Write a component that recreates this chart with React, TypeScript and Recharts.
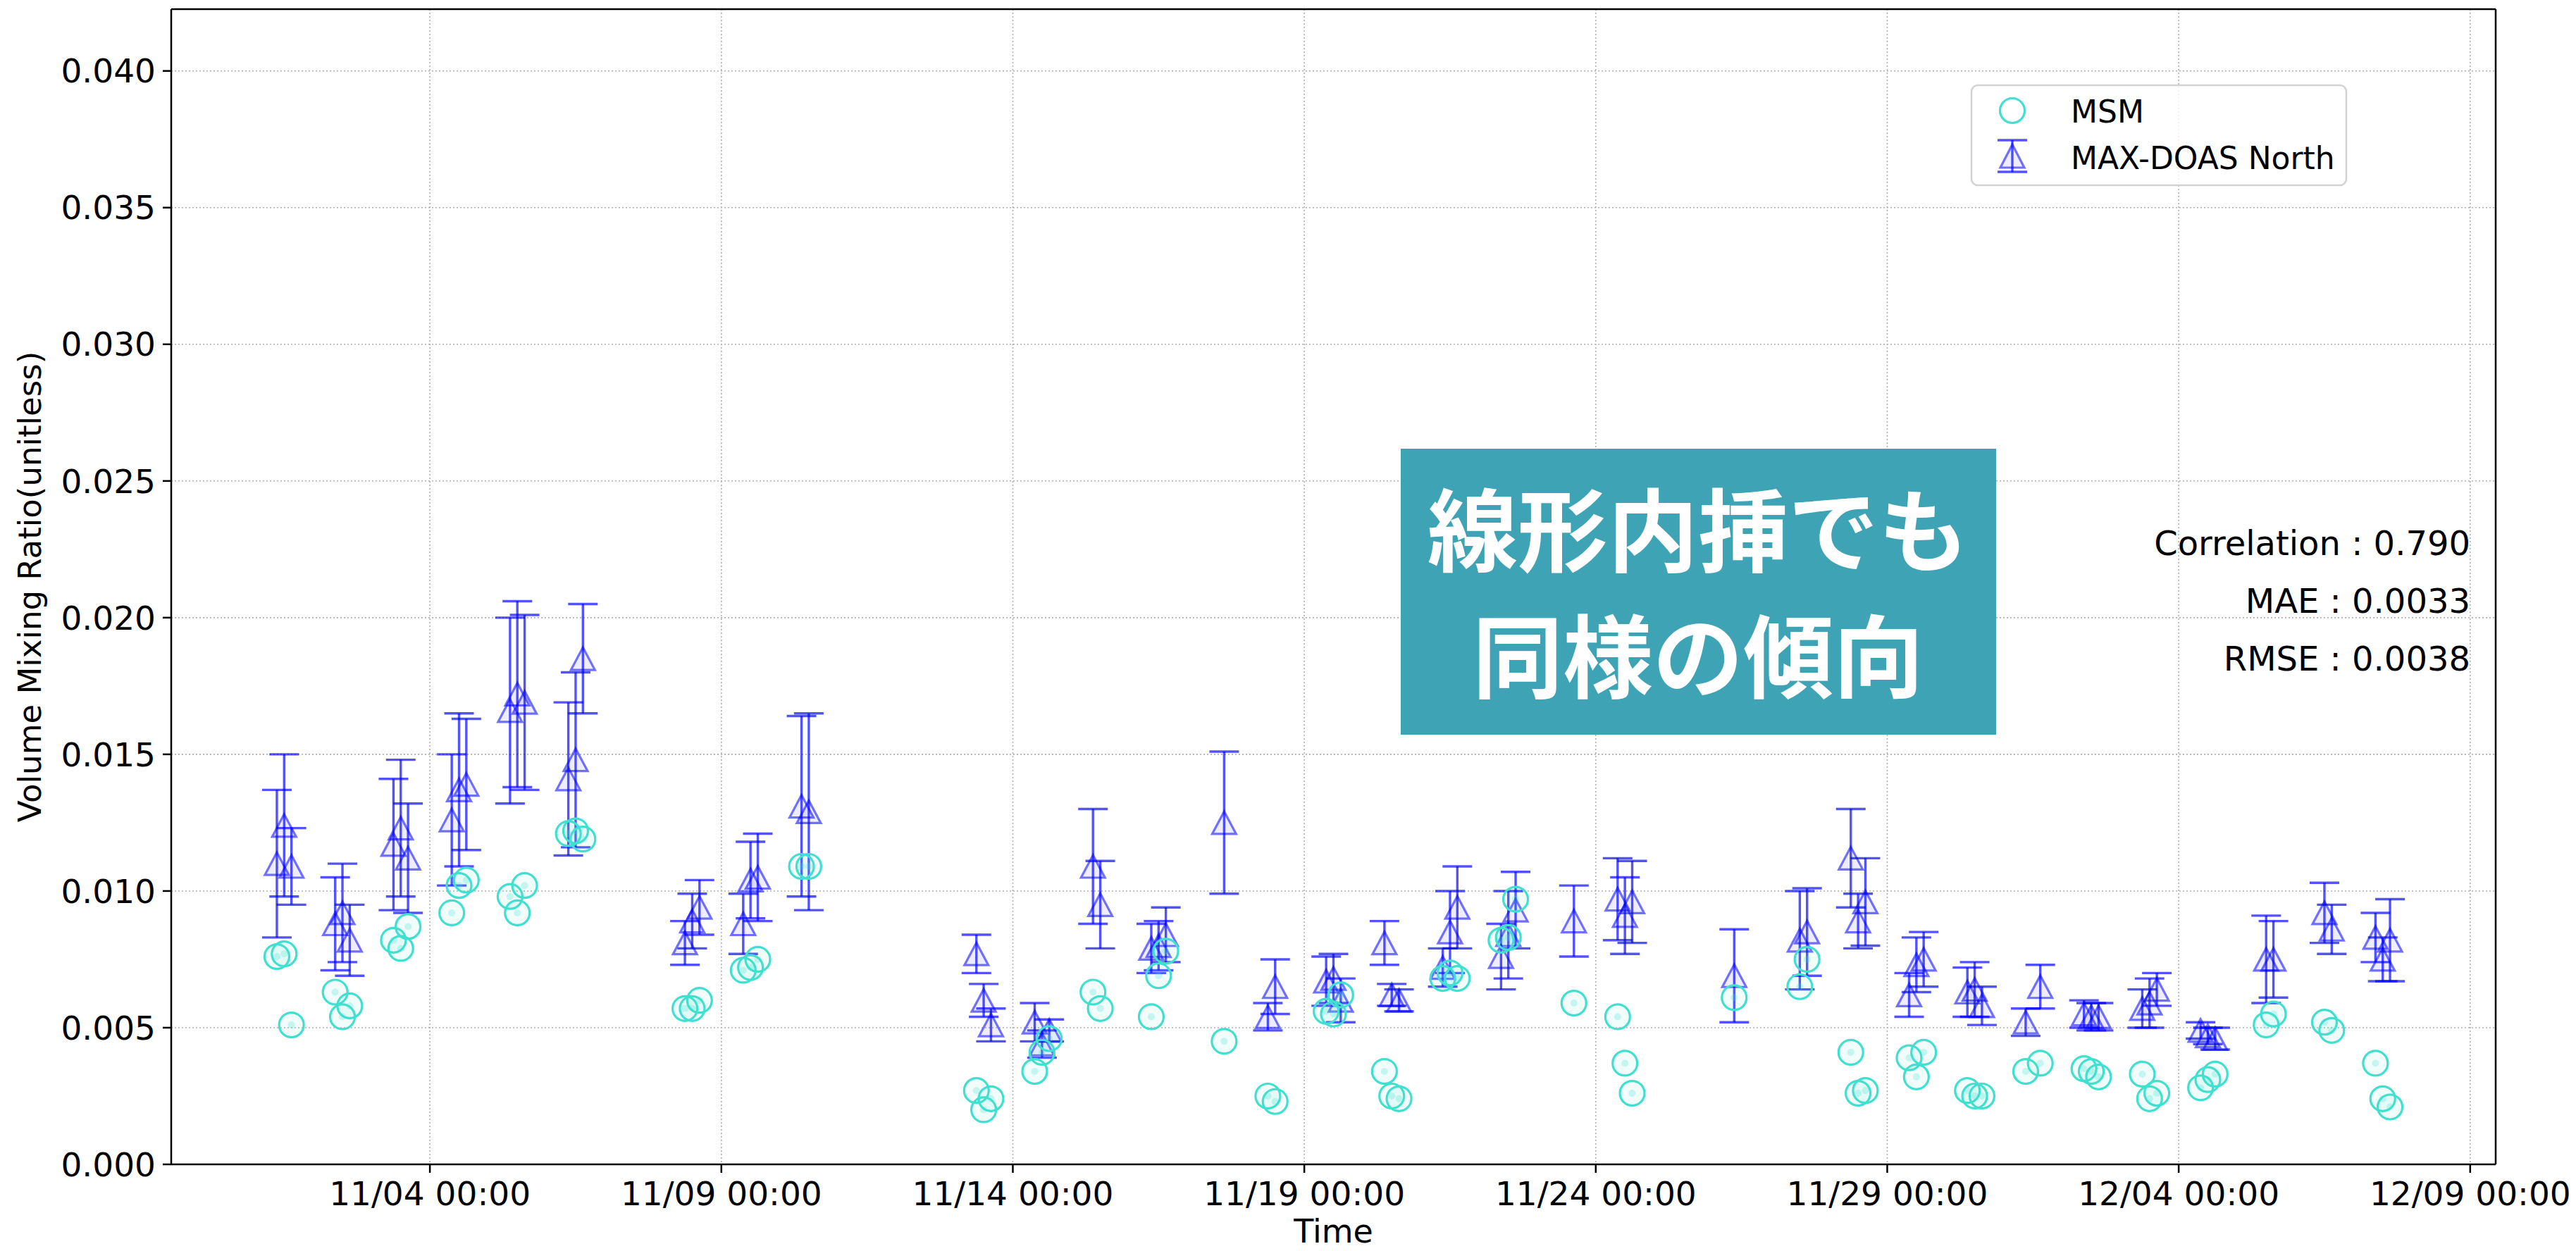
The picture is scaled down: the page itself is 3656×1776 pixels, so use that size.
import React from 'react';
import { ScatterChart, Scatter, XAxis, YAxis, CartesianGrid, ErrorBar, ReferenceLine } from 'recharts';

// ---------------- data ----------------
const sampleTimes = [
  '11/01 09:00', '11/01 12:00', '11/01 15:00',
  '11/02 09:00', '11/02 12:00', '11/02 15:00',
  '11/03 09:00', '11/03 12:00', '11/03 15:00',
  '11/04 09:00', '11/04 12:00', '11/04 15:00',
  '11/05 09:00', '11/05 12:00', '11/05 15:00',
  '11/06 09:00', '11/06 12:00', '11/06 15:00',
  '11/08 09:00', '11/08 12:00', '11/08 15:00',
  '11/09 09:00', '11/09 12:00', '11/09 15:00',
  '11/10 09:00', '11/10 12:00',
  '11/13 09:00', '11/13 12:00', '11/13 15:00',
  '11/14 09:00', '11/14 12:00', '11/14 15:00',
  '11/15 09:00', '11/15 12:00',
  '11/16 09:00', '11/16 12:00', '11/16 15:00',
  '11/17 15:00',
  '11/18 09:00', '11/18 12:00',
  '11/19 09:00', '11/19 12:00', '11/19 15:00',
  '11/20 09:00', '11/20 12:00', '11/20 15:00',
  '11/21 09:00', '11/21 12:00', '11/21 15:00',
  '11/22 09:00', '11/22 12:00', '11/22 15:00',
  '11/23 15:00',
  '11/24 09:00', '11/24 12:00', '11/24 15:00',
  '11/26 09:00',
  '11/27 12:00', '11/27 15:00',
  '11/28 09:00', '11/28 12:00', '11/28 15:00',
  '11/29 09:00', '11/29 12:00', '11/29 15:00',
  '11/30 09:00', '11/30 12:00', '11/30 15:00',
  '12/01 09:00', '12/01 15:00',
  '12/02 09:00', '12/02 12:00', '12/02 15:00',
  '12/03 09:00', '12/03 12:00', '12/03 15:00',
  '12/04 09:00', '12/04 12:00', '12/04 15:00',
  '12/05 12:00', '12/05 15:00',
  '12/06 12:00', '12/06 15:00',
  '12/07 09:00', '12/07 12:00', '12/07 15:00',
];

const msmValues = [
  0.0076, 0.0077, 0.0051,
  0.0063, 0.0054, 0.0058,
  0.0082, 0.0079, 0.0087,
  0.0092, 0.0102, 0.0104,
  0.0098, 0.0092, 0.0102,
  0.0121, 0.0122, 0.0119,
  0.0057, 0.0057, 0.0060,
  0.0071, 0.0072, 0.0075,
  0.0109, 0.0109,
  0.0027, 0.0020, 0.0024,
  0.0034, 0.0041, 0.0046,
  0.0063, 0.0057,
  0.0054, 0.0069, 0.0078,
  0.0045,
  0.0025, 0.0023,
  0.0056, 0.0055, 0.0062,
  0.0034, 0.0025, 0.0024,
  0.0068, 0.0070, 0.0068,
  0.0082, 0.0083, 0.0097,
  0.0059,
  0.0054, 0.0037, 0.0026,
  0.0061,
  0.0065, 0.0075,
  0.0041, 0.0026, 0.0027,
  0.0039, 0.0032, 0.0041,
  0.0027, 0.0025, 0.0025,
  0.0034, 0.0037,
  0.0035, 0.0034, 0.0032,
  0.0033, 0.0024, 0.0026,
  0.0028, 0.0031, 0.0033,
  0.0051, 0.0055,
  0.0052, 0.0049,
  0.0037, 0.0024, 0.0021,
];

const maxDoasValues = [
  0.0110, 0.0124, 0.0109,
  0.0088, 0.0092, 0.0082,
  0.0117, 0.0123, 0.0112,
  0.0126, 0.0137, 0.0139,
  0.0166, 0.0172, 0.0169,
  0.0141, 0.0148, 0.0185,
  0.0081, 0.0089, 0.0094,
  0.0088, 0.0104, 0.0105,
  0.0131, 0.0129,
  0.0077, 0.0060, 0.0051,
  0.0052, 0.0044, 0.0049,
  0.0109, 0.0095,
  0.0079, 0.0080, 0.0084,
  0.0125,
  0.0054, 0.0065,
  0.0067, 0.0068, 0.0060,
  0.0081, 0.0062, 0.0060,
  0.0072, 0.0085, 0.0094,
  0.0076, 0.0084, 0.0093,
  0.0089,
  0.0097, 0.0091, 0.0096,
  0.0069,
  0.0082, 0.0085,
  0.0112, 0.0089, 0.0096,
  0.0062, 0.0073, 0.0075,
  0.0063, 0.0064, 0.0058,
  0.0052, 0.0065,
  0.0055, 0.0054, 0.0054,
  0.0057, 0.0059, 0.0064,
  0.0049, 0.0047, 0.0046,
  0.0075, 0.0075,
  0.0092, 0.0086,
  0.0083, 0.0075, 0.0082,
];

const maxDoasErrors = [
  0.0027, 0.0026, 0.0014,
  0.0017, 0.0018, 0.0013,
  0.0024, 0.0025, 0.0020,
  0.0024, 0.0028, 0.0024,
  0.0034, 0.0034, 0.0032,
  0.0028, 0.0032, 0.0020,
  0.0008, 0.0010, 0.0010,
  0.0011, 0.0014, 0.0016,
  0.0033, 0.0036,
  0.0007, 0.0006, 0.0006,
  0.0007, 0.0005, 0.0004,
  0.0021, 0.0016,
  0.0009, 0.0009, 0.0010,
  0.0026,
  0.0005, 0.0010,
  0.0009, 0.0009, 0.0008,
  0.0008, 0.0004, 0.0004,
  0.0007, 0.0015, 0.0015,
  0.0012, 0.0016, 0.0014,
  0.0013,
  0.0015, 0.0014, 0.0015,
  0.0017,
  0.0018, 0.0016,
  0.0018, 0.0010, 0.0016,
  0.0008, 0.0010, 0.0010,
  0.0009, 0.0010, 0.0007,
  0.0005, 0.0008,
  0.0005, 0.0005, 0.0005,
  0.0007, 0.0009, 0.0006,
  0.0003, 0.0003, 0.0004,
  0.0016, 0.0014,
  0.0011, 0.0009,
  0.0009, 0.0008, 0.0015,
];

const xTickLabels = ['11/04 00:00', '11/09 00:00', '11/14 00:00', '11/19 00:00', '11/24 00:00', '11/29 00:00', '12/04 00:00', '12/09 00:00'];
const yTicks = [0, 0.005, 0.01, 0.015, 0.02, 0.025, 0.03, 0.035, 0.04];
const yMax = 0.04226;
const seriesNames = ['MSM', 'MAX-DOAS North'];
const statLines = ['Correlation : 0.790', 'MAE : 0.0033', 'RMSE : 0.0038'];
const calloutLines = ['線形内挿でも', '同様の傾向'];
const xLabel = 'Time';
const yLabel = 'Volume Mixing Ratio(unitless)';

// ---------------- helpers ----------------
// days since 11/01 00:00
function toDay(s: string): number {
  const [md, hm] = s.split(' ');
  const [m, d] = md.split('/').map(Number);
  const [h, mi] = hm.split(':').map(Number);
  const base = m === 11 ? 0 : 30;
  return base + (d - 1) + (h + mi / 60) / 24;
}

const dayValues = sampleTimes.map(toDay);
const dataMin = Math.min(...dayValues);
const dataMax = Math.max(...dayValues);
const pad = (dataMax - dataMin) * 0.05;
const xDomain: [number, number] = [dataMin - pad, dataMax + pad];
const xTicks = xTickLabels.map(toDay);
const tickLabelMap = new Map<number, string>();
xTicks.forEach((t, i) => tickLabelMap.set(t, xTickLabels[i]));

const msmData = dayValues.map((x, i) => ({ x, y: msmValues[i] }));
const maxData = dayValues.map((x, i) => ({ x, y: maxDoasValues[i], err: maxDoasErrors[i] }));

const FONT = 'DejaVu Sans, sans-serif';
const CYAN = '#40E0D0';
const BLUE = '#0000ff';
const ERR = 'rgba(0,0,255,0.68)';

const CircleMarker = (props: any) => {
  const { cx, cy } = props;
  if (cx == null || cy == null) return null;
  return (
    <g>
      <circle cx={cx} cy={cy} r={17.5} fill={CYAN} fillOpacity={0.08} stroke={CYAN} strokeWidth={3.2} />
      <circle cx={cx} cy={cy} r={5} fill={CYAN} fillOpacity={0.25} />
    </g>
  );
};

const TriangleMarker = (props: any) => {
  const { cx, cy } = props;
  if (cx == null || cy == null) return null;
  const h = 16;
  const w = 17;
  return (
    <polygon
      points={`${cx},${cy - h} ${cx - w},${cy + h} ${cx + w},${cy + h}`}
      fill={BLUE}
      fillOpacity={0.07}
      stroke={BLUE}
      strokeOpacity={0.55}
      strokeWidth={3.2}
      strokeLinejoin="miter"
    />
  );
};

const YAxisLabel = (props: any) => {
  const vb = props.viewBox || { x: 0, y: 13, width: 243, height: 1640 };
  const cx = 58;
  const cy = vb.y + vb.height / 2;
  return (
    <text x={cx} y={cy} transform={`rotate(-90, ${cx}, ${cy})`} textAnchor="middle" fontSize={45} fontFamily={FONT} fill="#000">
      {yLabel}
    </text>
  );
};

export default function App() {
  return (
    <div style={{ position: 'absolute', left: 0, top: 0, width: 3656, height: 1776, background: '#fff', fontFamily: FONT }}>
      <ScatterChart width={3656} height={1776} margin={{ top: 13, right: 114, bottom: 0, left: 0 }}>
        <CartesianGrid stroke="#b0b0b0" strokeDasharray="2 3" strokeWidth={1.6} />
        <XAxis
          type="number"
          dataKey="x"
          domain={xDomain}
          allowDataOverflow
          ticks={xTicks}
          interval={0}
          tickFormatter={(v: number) => tickLabelMap.get(v) ?? ''}
          height={123}
          tickSize={12}
          tickMargin={13}
          tick={{ fontSize: 47, fill: '#000', fontFamily: FONT }}
          axisLine={{ stroke: '#000', strokeWidth: 2.5 }}
          tickLine={{ stroke: '#000', strokeWidth: 2.5 }}
          label={{ value: xLabel, position: 'insideBottom', offset: 12, fontSize: 46, fill: '#000', fontFamily: FONT }}
        />
        <YAxis
          type="number"
          dataKey="y"
          domain={[0, yMax]}
          allowDataOverflow
          ticks={yTicks}
          interval={0}
          tickFormatter={(v: number) => v.toFixed(3)}
          width={243}
          tickSize={12}
          tickMargin={10}
          tick={{ fontSize: 47, fill: '#000', fontFamily: FONT }}
          axisLine={{ stroke: '#000', strokeWidth: 2.5 }}
          tickLine={{ stroke: '#000', strokeWidth: 2.5 }}
          label={<YAxisLabel />}
        />
        <ReferenceLine y={yMax} stroke="#000" strokeWidth={2.5} ifOverflow="visible" />
        <ReferenceLine x={xDomain[1]} stroke="#000" strokeWidth={2.5} ifOverflow="visible" />
        <Scatter name={seriesNames[1]} data={maxData} shape={TriangleMarker} isAnimationActive={false}>
          <ErrorBar dataKey="err" direction="y" width={21} stroke={ERR} strokeWidth={3.4} isAnimationActive={false} />
        </Scatter>
        <Scatter name={seriesNames[0]} data={msmData} shape={CircleMarker} isAnimationActive={false} />
      </ScatterChart>

      <svg width={3656} height={1776} style={{ position: 'absolute', left: 0, top: 0, pointerEvents: 'none' }}>
        {/* legend */}
        <rect x={2798} y={121} width={532} height={142} rx={9} fill="#fff" fillOpacity={0.8} stroke="#d3d3d3" strokeWidth={2.5} />
        <circle cx={2856} cy={157} r={17.5} fill="none" stroke={CYAN} strokeWidth={3.2} />
        <line x1={2856} y1={199} x2={2856} y2={244} stroke={ERR} strokeWidth={3.4} />
        <line x1={2835} y1={199} x2={2877} y2={199} stroke={ERR} strokeWidth={3.4} />
        <line x1={2835} y1={244} x2={2877} y2={244} stroke={ERR} strokeWidth={3.4} />
        <polygon points="2856,205 2839,238 2873,238" fill={BLUE} fillOpacity={0.07} stroke={BLUE} strokeOpacity={0.55} strokeWidth={3.2} />
        <text x={2939} y={174} fontSize={44} fontFamily={FONT} fill="#000">{seriesNames[0]}</text>
        <text x={2939} y={240} fontSize={44} fontFamily={FONT} fill="#000">{seriesNames[1]}</text>

        {/* statistics */}
        {statLines.map((s, i) => (
          <text key={s} x={3506} y={788 + i * 82} textAnchor="end" fontSize={48} fontFamily={FONT} fill="#000">{s}</text>
        ))}

        {/* callout box */}
        <rect x={1988} y={637} width={845} height={406} fill="#3EA4B5" />
        {calloutLines.map((s, i) => (
          <text key={s} x={2410} y={802 + i * 179} textAnchor="middle" fontSize={128} fontWeight={700} fontFamily="'Noto Sans CJK JP', sans-serif" fill="#fff">{s}</text>
        ))}
      </svg>
    </div>
  );
}
